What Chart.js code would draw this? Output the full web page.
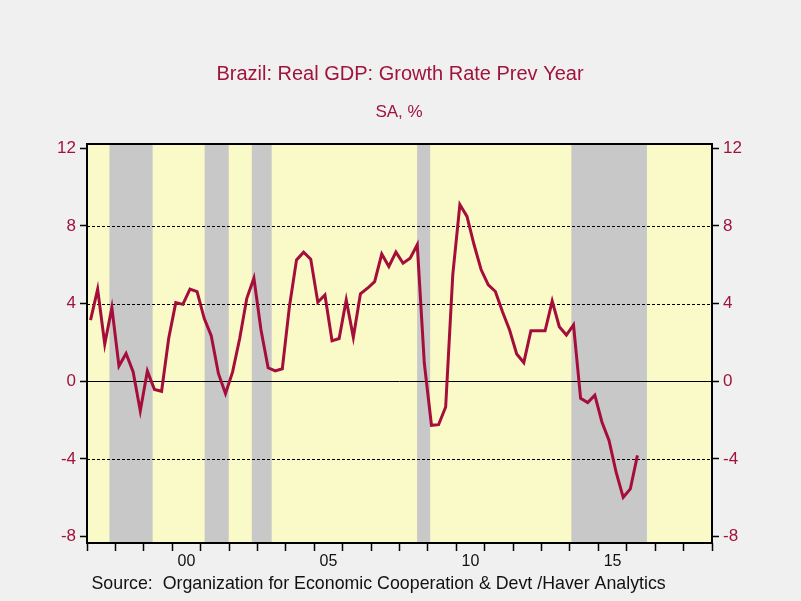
<!DOCTYPE html>
<html>
<head>
<meta charset="utf-8">
<script src="https://cdn.jsdelivr.net/npm/chart.js@4/dist/chart.umd.min.js"></script>
<style>
html,body{margin:0;padding:0;background:#F0F0F0;}
#wrap{width:801px;height:601px;}
</style>
</head>
<body>
<div id="wrap"><canvas id="c" width="801" height="601"></canvas></div>
<script>
// ---- data ----
const startYear = 1997; // first observation: 1997 Q1, quarterly
const gdpGrowth = [3.15, 4.74, 1.91, 3.79, 0.78, 1.43, 0.48, -1.53, 0.52, -0.43, -0.52, 2.2,
  4.05, 3.96, 4.75, 4.62, 3.24, 2.33, 0.4, -0.64, 0.48, 2.2, 4.27, 5.31, 2.64, 0.69, 0.53, 0.64,
  3.84, 6.25, 6.65, 6.29, 4.07, 4.44, 2.08, 2.2, 4.19, 2.26, 4.5, 4.79, 5.13, 6.55, 5.91, 6.65,
  6.08, 6.34, 7.03, 0.9, -2.27, -2.24, -1.33, 5.48, 9.1, 8.49, 7.03, 5.74, 4.96, 4.62, 3.58,
  2.64, 1.4, 0.96, 2.6, 2.6, 2.6, 4.13, 2.81, 2.38, 2.9, -0.88, -1.1, -0.72, -2.1, -3.05,
  -4.69, -5.98, -5.55, -3.82];
const recessionStarts = [1997.79, 2001.14, 2002.80, 2008.62, 2014.05];
const recessionEnds   = [1999.31, 2001.99, 2003.50, 2009.08, 2016.71];
const yTicks = [-8, -4, 0, 4, 8, 12];
const xLabelYears = [2000, 2005, 2010, 2015];
const xMinYear = 1997, xMaxYear = 2019;
const titleText = 'Brazil: Real GDP: Growth Rate Prev Year';
const subtitleText = 'SA, %';
const sourceText = 'Source:  Organization for Economic Cooperation & Devt /Haver Analytics';

// ---- styles ----
const RED = '#A0143C';
const LINE = '#A50D3A';
const FONT = '"Liberation Sans", Arial, sans-serif';

const points = gdpGrowth.map((v, i) => ({x: startYear + (i + 0.5) / 4, y: v}));

const xTickValues = [];
for (let y = xMinYear; y <= xMaxYear; y++) {
  xTickValues.push(y);
  if (y < xMaxYear) xTickValues.push(y + 0.5);
}

const bgPlugin = {
  id: 'bg',
  beforeDraw(chart) {
    const {ctx, chartArea: a, scales} = chart;
    ctx.save();
    ctx.fillStyle = '#F0F0F0';
    ctx.fillRect(0, 0, chart.width, chart.height);
    ctx.fillStyle = '#FAFAC8';
    ctx.fillRect(a.left, a.top, a.right - a.left, a.bottom - a.top);
    ctx.fillStyle = '#C8C8C8';
    recessionStarts.forEach((s, i) => {
      const x0 = Math.max(a.left, scales.x.getPixelForValue(s));
      const x1 = Math.min(a.right, scales.x.getPixelForValue(recessionEnds[i]));
      ctx.fillRect(x0, a.top, x1 - x0, a.bottom - a.top);
    });
    // grid lines
    yTicks.forEach(v => {
      if (v === 12 || v === -8) return;
      const py = Math.round(scales.y.getPixelForValue(v)) + 0.5;
      ctx.beginPath();
      ctx.strokeStyle = '#000';
      ctx.lineWidth = 1;
      ctx.setLineDash(v === 0 ? [] : [3, 2]);
      ctx.moveTo(a.left, py);
      ctx.lineTo(a.right, py);
      ctx.stroke();
    });
    ctx.restore();
  },
  afterDatasetsDraw(chart) {
    const {ctx, chartArea: a} = chart;
    ctx.save();
    ctx.strokeStyle = '#000';
    ctx.lineWidth = 2;
    ctx.setLineDash([]);
    ctx.strokeRect(a.left, a.top, a.right - a.left, a.bottom - a.top);
    ctx.restore();
  },
  afterDraw(chart) {
    const {ctx} = chart;
    ctx.save();
    ctx.textBaseline = 'alphabetic';
    ctx.textAlign = 'center';
    ctx.fillStyle = RED;
    ctx.font = '20px ' + FONT;
    ctx.fillText(titleText, 400, 79.5);
    ctx.font = '17px ' + FONT;
    ctx.fillText(subtitleText, 399, 116.5);
    ctx.textAlign = 'left';
    ctx.fillStyle = '#111';
    ctx.font = '17.8px ' + FONT;
    ctx.fillText(sourceText, 91.5, 589);
    ctx.restore();
  }
};

const yAxisCommon = (pos, w) => ({
  type: 'linear',
  position: pos,
  min: -8.335,
  max: 12.22,
  afterBuildTicks: s => { s.ticks = yTicks.map(v => ({value: v})); },
  afterFit: s => { s.width = w; },
  grid: {drawOnChartArea: false, drawTicks: true, tickLength: 7, tickColor: '#000', tickWidth: 1.5, color: '#000'},
  border: {display: false},
  ticks: {color: RED, font: {family: FONT, size: 17}, padding: 4, callback: v => String(v)}
});

new Chart(document.getElementById('c'), {
  type: 'line',
  data: {
    datasets: [{
      data: points,
      borderColor: LINE,
      borderWidth: 3,
      pointRadius: 0,
      tension: 0,
      yAxisID: 'y',
      xAxisID: 'x'
    }]
  },
  options: {
    responsive: false,
    animation: false,
    devicePixelRatio: 1,
    layout: {padding: {top: 144, left: 0, right: 0, bottom: 0}},
    plugins: {legend: {display: false}, title: {display: false}, tooltip: {enabled: false}},
    scales: {
      x: {
        type: 'linear',
        position: 'bottom',
        min: xMinYear,
        max: xMaxYear,
        afterBuildTicks: s => { s.ticks = xTickValues.map(v => ({value: v})); },
        afterFit: s => { s.height = 58; },
        grid: {
          drawOnChartArea: false, drawTicks: true, tickLength: 8, tickWidth: 1.5,
          tickColor: ctx => (ctx.tick && Number.isInteger(ctx.tick.value)) ? '#000' : 'rgba(0,0,0,0)'
        },
        border: {display: false},
        ticks: {
          autoSkip: false, maxRotation: 0, minRotation: 0, padding: 1,
          color: '#111', font: {family: FONT, size: 16},
          callback: v => {
            const yr = v - 0.5;
            return xLabelYears.includes(yr) ? String(yr % 100).padStart(2, '0') : '';
          }
        }
      },
      y: yAxisCommon('left', 87),
      y2: yAxisCommon('right', 89)
    }
  },
  plugins: [bgPlugin]
});
</script>
</body>
</html>
